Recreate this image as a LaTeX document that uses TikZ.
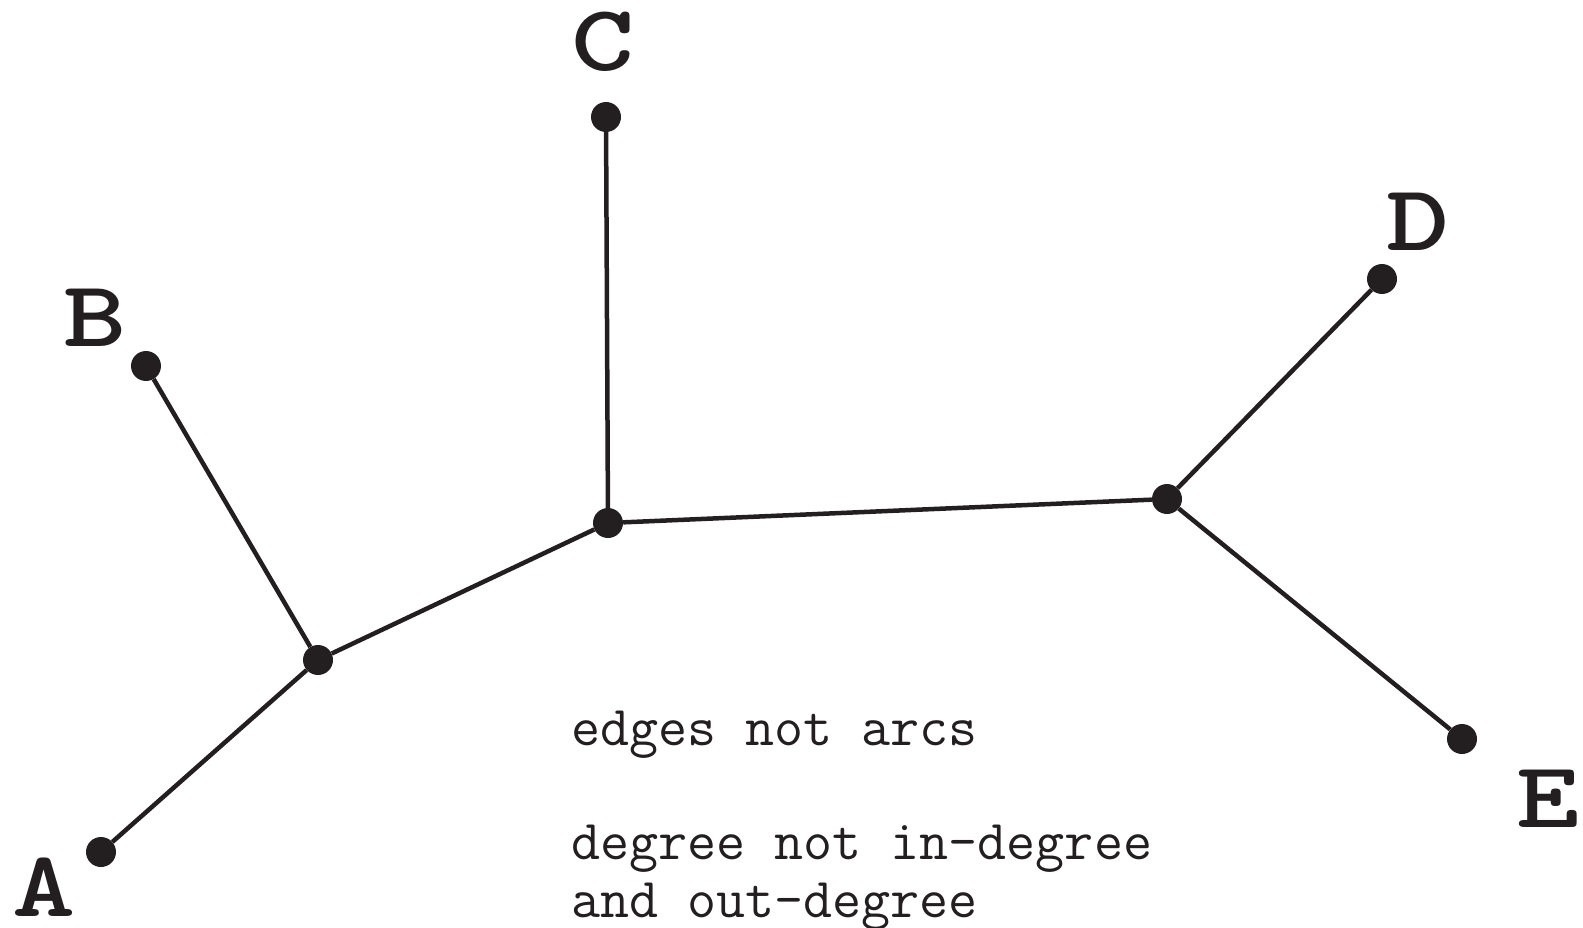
\documentclass[tikz,border=0pt]{standalone}
\usepackage{fontspec}
\usepackage{graphicx}
\definecolor{ink}{HTML}{231F20}
\newcommand{\widelbl}[1]{\scalebox{1.28}[1]{#1}}
\begin{document}
\begin{tikzpicture}[x=1pt,y=-1pt,
  dot/.style={circle,fill=ink,inner sep=0pt,minimum size=30pt},
  edge/.style={draw=ink,line width=4.5pt},
  lbl/.style={inner sep=0pt,text=ink,font=\fontsize{94}{94}\selectfont\ttfamily\bfseries},
  note/.style={inner sep=0pt,anchor=base west,text=ink,font=\fontsize{56.4}{60}\selectfont\ttfamily}]
\useasboundingbox (0,0) rectangle (1583,928);
\node[dot] (a) at (101,852) {};
\node[dot] (b) at (146,366) {};
\node[dot] (c) at (606,117) {};
\node[dot] (d) at (1382,279) {};
\node[dot] (e) at (1462,739) {};
\node[dot] (j1) at (318,660) {};
\node[dot] (j2) at (608,523) {};
\node[dot] (j3) at (1167,499) {};
\path[edge] (a) -- (j1) (b) -- (j1) (j1) -- (j2) (c) -- (j2) (j2) -- (j3) (j3) -- (d) (j3) -- (e);
\node[lbl] (la) at (44,887) {\widelbl{A}};
\node[lbl] (lb) at (95,318) {\widelbl{B}};
\node[lbl] (lc) at (603,42) {\widelbl{C}};
\node[lbl] (ld) at (1418,222) {\widelbl{D}};
\node[lbl] (le) at (1548,799) {\widelbl{E}};
\node[note] (n1) at (571,745) {edges not arcs};
\node[note] (n2) at (571,859) {degree not in-degree};
\node[note] (n3) at (571,917) {and out-degree};
\end{tikzpicture}
\end{document}
